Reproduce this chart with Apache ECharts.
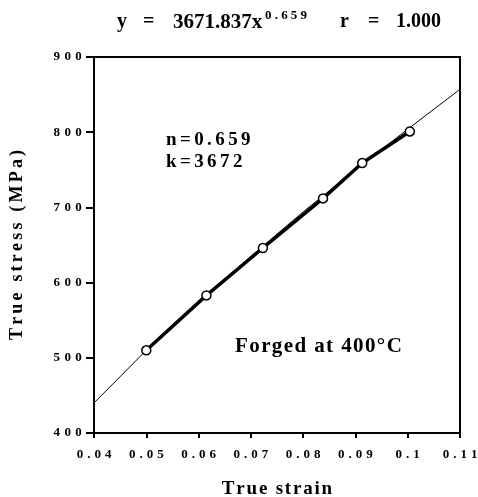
<!DOCTYPE html>
<html>
<head>
<meta charset="utf-8">
<script src="https://cdn.jsdelivr.net/npm/echarts@6/dist/echarts.min.js"></script>
<style>
  html, body { margin: 0; padding: 0; background: #fff; }
  #chart { width: 478px; height: 497px; }
</style>
</head>
<body>
<div id="chart"></div>
<script>
// Measured true strain / true stress points
const strainPts = [0.050, 0.0615, 0.0723, 0.0838, 0.0913, 0.1004];
const stressPts = [510, 583, 646, 712, 759, 801];

// Power-law fit curve, sampled at the axis ticks
const fitStrain = [0.04, 0.05, 0.06, 0.07, 0.08, 0.09, 0.10, 0.11];
const fitStress = [440, 510, 574, 635, 694, 750, 804, 857];

// Axis tick labels
const xTickLabels = ['0.04', '0.05', '0.06', '0.07', '0.08', '0.09', '0.1', '0.11'];
const yTickLabels = ['400', '500', '600', '700', '800', '900'];

const serif = '"Liberation Serif", "DejaVu Serif", serif';

// Wrap every character in its own rich-text token so it gets extra side padding (letter spacing)
function spaced(str, key) {
  return str.split('').map(ch => '{' + key + '|' + ch + '}').join('');
}
function richStyle(size, pad) {
  return { fontFamily: serif, fontWeight: 'bold', fontSize: size, color: '#000', padding: [0, pad, 0, pad] };
}

const chart = echarts.init(document.getElementById('chart'));

chart.setOption({
  animation: false,
  backgroundColor: '#fff',
  grid: {
    left: 94, right: 18, top: 57, bottom: 64,
    outerBoundsMode: 'none',
    show: true, borderColor: '#000', borderWidth: 2, backgroundColor: 'transparent'
  },
  xAxis: {
    type: 'value',
    min: 0.04, max: 0.11, interval: 0.01,
    name: spaced('True strain', 'n'),
    nameLocation: 'middle',
    nameGap: 47,
    nameTextStyle: { rich: { n: richStyle(19, 0.9) } },
    axisLine: { lineStyle: { color: '#000', width: 2 } },
    axisTick: { inside: false, length: 5, lineStyle: { color: '#000', width: 2 } },
    axisLabel: {
      margin: 15,
      formatter: v => spaced(xTickLabels[Math.round((v - 0.04) / 0.01)], 't'),
      rich: { t: richStyle(13, 2.0) }
    },
    splitLine: { show: false }
  },
  yAxis: {
    type: 'value',
    min: 400, max: 900, interval: 100,
    name: spaced('True stress (MPa)', 'n'),
    nameLocation: 'middle',
    nameGap: 68,
    nameRotate: 90,
    nameTextStyle: { rich: { n: richStyle(18, 1.6) } },
    axisLine: { lineStyle: { color: '#000', width: 2 } },
    axisTick: { inside: false, length: 8, lineStyle: { color: '#000', width: 2 } },
    axisLabel: {
      margin: 10,
      formatter: v => spaced(yTickLabels[Math.round((v - 400) / 100)], 't'),
      rich: { t: richStyle(13, 2.2) }
    },
    splitLine: { show: false }
  },
  series: [
    {
      type: 'line',
      data: fitStrain.map((x, i) => [x, fitStress[i]]),
      showSymbol: false,
      lineStyle: { color: '#000', width: 1 },
      z: 2
    },
    {
      type: 'line',
      data: strainPts.map((x, i) => [x, stressPts[i]]),
      symbol: 'circle',
      symbolSize: 9,
      itemStyle: { color: '#fff', borderColor: '#000', borderWidth: 1.5 },
      lineStyle: { color: '#000', width: 3.5 },
      z: 3
    }
  ],
  graphic: [
    // fitted equation heading
    { type: 'text', left: 117, top: 12, style: { text: 'y', font: 'bold 20px ' + serif, fill: '#000' } },
    { type: 'text', left: 143, top: 12, style: { text: '=', font: 'bold 20px ' + serif, fill: '#000' } },
    { type: 'text', left: 173, top: 12, style: { text: '3671.837x', font: 'bold 21px ' + serif, fill: '#000' } },
    { type: 'text', left: 265, top: 9, style: { text: spaced('0.659', 's'), rich: { s: richStyle(13, 1.6) } } },
    { type: 'text', left: 340, top: 12, style: { text: 'r', font: 'bold 20px ' + serif, fill: '#000' } },
    { type: 'text', left: 368, top: 12, style: { text: '=', font: 'bold 20px ' + serif, fill: '#000' } },
    { type: 'text', left: 396, top: 12, style: { text: '1.000', font: 'bold 20px ' + serif, fill: '#000' } },
    // fit parameters
    { type: 'text', left: 166, top: 131, style: { text: spaced('n=0.659', 'p'), rich: { p: richStyle(19, 1.7) } } },
    { type: 'text', left: 166, top: 153, style: { text: spaced('k=3672', 'p'), rich: { p: richStyle(19, 1.7) } } },
    // processing condition
    { type: 'text', left: 235, top: 336, style: { text: spaced('Forged at 400°C', 'f'), rich: { f: richStyle(21, 0.7) } } }
  ]
});
</script>
</body>
</html>
